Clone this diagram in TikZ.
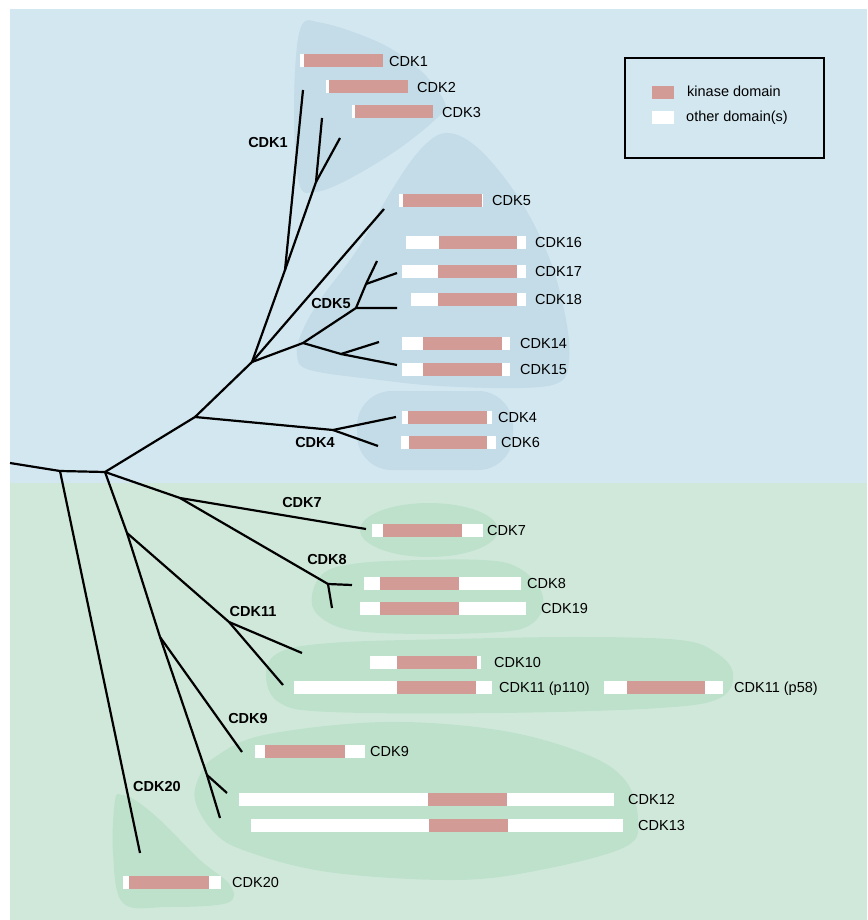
\documentclass[tikz,border=0pt]{standalone}
\usepackage{fontspec}
\setmainfont{Liberation Sans}
\definecolor{bgblue}{RGB}{211,231,240}
\definecolor{blobblue}{RGB}{195,220,231}
\definecolor{bggreen}{RGB}{208,232,218}
\definecolor{blobgreen}{RGB}{190,225,203}
\definecolor{kin}{RGB}{211,155,149}
\tikzset{
  tree/.style={line width=2.2pt, line join=round},
  lab/.style={font=\fontsize{14.5}{17}\selectfont, inner sep=0pt, anchor=base west},
  grp/.style={font=\bfseries\fontsize{14.5}{17}\selectfont, inner sep=0pt},
  blobB/.style={fill=blobblue},
  blobG/.style={fill=blobgreen},
}
\newcommand\cdkbar[8]{%
  \fill[white] (#2,#1-6.5) rectangle (#5,#1+6.5);
  \fill[kin] (#3,#1-6.5) rectangle (#4,#1+6.5);
  \node[lab] (#8) at (#6,#1+5.2) {#7};
}
\begin{document}
\begin{tikzpicture}[x=1pt,y=-1pt]
\useasboundingbox (0,0) rectangle (867,920);
% backgrounds
\fill[white] (0,0) rectangle (867,920);
\fill[bgblue] (10,9) rectangle (867,483);
\fill[bggreen] (10,483) rectangle (867,920);
% group blobs
\fill[blobB] plot[smooth cycle, tension=0.6] coordinates {(300,30) (322,23) (380,43) (420,70) (445,103) (437,118) (397,150) (347,180) (315,192) (299,183) (294,110)};
\fill[blobB] plot[smooth cycle, tension=0.6] coordinates {(447,133) (480,150) (520,200) (550,260) (566,320) (569,360) (560,382) (520,388) (440,386) (380,380) (310,370) (297,355) (302,332) (320,300) (357,250) (390,193) (420,150)};
\fill[blobB, rounded corners=35pt] (357,391) rectangle (513,470);
\fill[blobG] (429,530) ellipse [x radius=69, y radius=27];
\fill[blobG] plot[smooth cycle, tension=0.6] coordinates {(312,595) (325,572) (360,563) (420,560) (483,560) (515,566) (538,585) (543,607) (530,625) (500,632) (420,634) (350,630) (318,615)};
\fill[blobG] plot[smooth cycle, tension=0.6] coordinates {(266,677) (278,653) (330,643) (450,639) (583,637) (680,640) (715,652) (733,673) (720,698) (660,708) (500,713) (330,712) (280,703)};
\fill[blobG] plot[smooth cycle, tension=0.6] coordinates {(195,800) (200,775) (215,757) (264,735) (383,722) (498,730) (583,753) (625,780) (638,820) (625,847) (540,870) (455,880) (328,872) (243,850) (212,830)};
\fill[blobG] plot[smooth cycle, tension=0.6] coordinates {(115,800) (122,795) (135,800) (160,820) (200,860) (230,885) (227,903) (167,907) (123,903) (113,853)};
% tree coordinates
\coordinate (r0) at (10,463);
\coordinate (r1) at (60,471);
\coordinate (r2) at (105,472);
\coordinate (b1) at (195,417);
\coordinate (b2) at (252,362);
\coordinate (c1n) at (285,270);
\coordinate (c1l) at (303,90);
\coordinate (c23) at (316,182);
\coordinate (c2l) at (322,118);
\coordinate (c3l) at (340,138);
\coordinate (c5l) at (384,209);
\coordinate (c5n) at (303,343);
\coordinate (c1618) at (356,308);
\coordinate (c18l) at (397,308);
\coordinate (c1617) at (366,284);
\coordinate (c17l) at (397,273);
\coordinate (c16l) at (377,261);
\coordinate (c1415) at (341,354);
\coordinate (c14l) at (379,342);
\coordinate (c15l) at (397,365);
\coordinate (c4n) at (333,430);
\coordinate (c4l) at (396,417);
\coordinate (c6l) at (378,446);
\coordinate (g1) at (180,498);
\coordinate (c7l) at (366,529);
\coordinate (c8n) at (328,584);
\coordinate (c8l) at (352,585);
\coordinate (c19l) at (332,608);
\coordinate (g2) at (127,533);
\coordinate (c11n) at (229,622);
\coordinate (c10l) at (302,653);
\coordinate (c11l) at (283,685);
\coordinate (g3) at (160,637);
\coordinate (c9l) at (242,752);
\coordinate (c1213) at (207,775);
\coordinate (c12l) at (227,793);
\coordinate (c13l) at (220,818);
\coordinate (c20l) at (140,853);
% tree
\draw[tree] (r0) -- (r1) -- (r2) -- (b1) -- (b2) -- (c1n) -- (c1l);
\draw[tree] (c1n) -- (c23) -- (c2l);
\draw[tree] (c23) -- (c3l);
\draw[tree] (b2) -- (c5l);
\draw[tree] (b2) -- (c5n) -- (c1618) -- (c18l);
\draw[tree] (c1618) -- (c1617) -- (c17l);
\draw[tree] (c1617) -- (c16l);
\draw[tree] (c5n) -- (c1415) -- (c14l);
\draw[tree] (c1415) -- (c15l);
\draw[tree] (b1) -- (c4n) -- (c4l);
\draw[tree] (c4n) -- (c6l);
\draw[tree] (r2) -- (g1) -- (c7l);
\draw[tree] (g1) -- (c8n) -- (c8l);
\draw[tree] (c8n) -- (c19l);
\draw[tree] (r2) -- (g2) -- (g3) -- (c1213) -- (c13l);
\draw[tree] (c1213) -- (c12l);
\draw[tree] (g3) -- (c9l);
\draw[tree] (g2) -- (c11n) -- (c10l);
\draw[tree] (c11n) -- (c11l);
\draw[tree] (r1) -- (c20l);
% group labels
\node[grp] (gCDK1) at (268,143) {CDK1};
\node[grp] (gCDK5) at (331,304) {CDK5};
\node[grp] (gCDK4) at (315,443) {CDK4};
\node[grp] (gCDK7) at (302,503) {CDK7};
\node[grp] (gCDK8) at (327,560) {CDK8};
\node[grp] (gCDK11) at (253,612) {CDK11};
\node[grp] (gCDK9) at (248,718) {CDK9};
\node[grp] (gCDK20) at (157,786) {CDK20};
% bars
\cdkbar{61}{300}{304}{383}{383}{389}{CDK1}{lCDK1}
\cdkbar{87}{326}{329}{408}{408}{417}{CDK2}{lCDK2}
\cdkbar{112}{352}{355}{433}{433}{442}{CDK3}{lCDK3}
\cdkbar{200}{399}{403}{482}{483}{492}{CDK5}{lCDK5}
\cdkbar{242}{406}{439}{517}{526}{535}{CDK16}{lCDK16}
\cdkbar{271}{402}{438}{517}{526}{535}{CDK17}{lCDK17}
\cdkbar{299}{411}{438}{517}{526}{535}{CDK18}{lCDK18}
\cdkbar{343}{402}{423}{502}{510}{520}{CDK14}{lCDK14}
\cdkbar{369}{402}{423}{502}{510}{520}{CDK15}{lCDK15}
\cdkbar{417}{402}{408}{487}{492}{498}{CDK4}{lCDK4}
\cdkbar{442}{401}{409}{487}{496}{501}{CDK6}{lCDK6}
\cdkbar{530}{372}{383}{462}{483}{487}{CDK7}{lCDK7}
\cdkbar{583}{364}{380}{459}{521}{527}{CDK8}{lCDK8}
\cdkbar{608}{360}{380}{459}{526}{541}{CDK19}{lCDK19}
\cdkbar{662}{370}{397}{477}{481}{494}{CDK10}{lCDK10}
\cdkbar{687}{294}{397}{476}{492}{499}{CDK11 (p110)}{lCDK11a}
\cdkbar{687}{604}{627}{705}{723}{734}{CDK11 (p58)}{lCDK11b}
\cdkbar{751}{255}{265}{345}{365}{370}{CDK9}{lCDK9}
\cdkbar{799}{239}{428}{507}{614}{628}{CDK12}{lCDK12}
\cdkbar{825}{251}{429}{508}{623}{638}{CDK13}{lCDK13}
\cdkbar{882}{123}{129}{209}{221}{232}{CDK20}{lCDK20}
% legend
\node[draw, line width=2pt, minimum width=199pt, minimum height=100pt, anchor=north west, inner sep=0pt] (legend) at (624,57) {};
\fill[kin] (652,86) rectangle (674,99);
\fill[white] (652,111) rectangle (674,124);
\node[lab] (lgk) at (687,96.5) {kinase domain};
\node[lab] (lgo) at (686,121.5) {other domain(s)};
\end{tikzpicture}
\end{document}
